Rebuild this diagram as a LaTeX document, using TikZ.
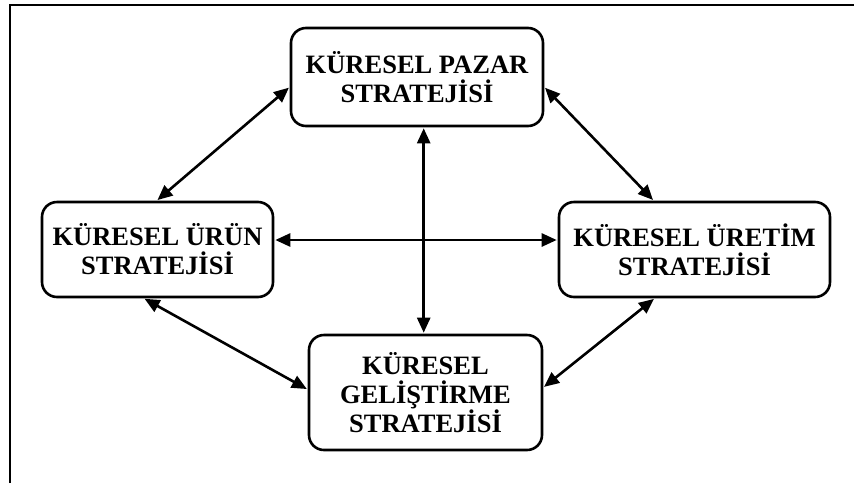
\documentclass[tikz,border=0pt]{standalone}
\usepackage{fontspec}
\setmainfont{Liberation Serif}
\usetikzlibrary{arrows.meta,calc}
\begin{document}
\begin{tikzpicture}[x=1pt,y=-1pt,
  stratbox/.style={draw,line width=2.6pt,rounded corners=15pt,inner sep=0pt,
    align=center,font=\fontsize{26.5}{29}\selectfont\bfseries},
  link/.style={line width=2.6pt,{Triangle[length=15pt,width=13pt]}-{Triangle[length=15pt,width=13pt]},shorten <=1pt,shorten >=1pt}]
\useasboundingbox (0,0) rectangle (854,483);
\draw[line width=2pt] (9.5,483) -- (9.5,5) -- (854,5);
\node[stratbox,minimum width=252pt,minimum height=98pt] (top) at (417,77) {KÜRESEL PAZAR\\STRATEJİSİ};
\node[stratbox,minimum width=231pt,minimum height=95pt] (left) at (157.5,249.5) {KÜRESEL ÜRÜN\\STRATEJİSİ};
\node[stratbox,minimum width=271pt,minimum height=95pt] (right) at (694.5,249.5) {KÜRESEL ÜRETİM\\STRATEJİSİ};
\node[stratbox,minimum width=233pt,minimum height=115pt] (bot) at (425.5,392.5) {KÜRESEL\\GELİŞTİRME\\STRATEJİSİ};
\coordinate (tl1) at ($(top.west)+(0,10)$);
\coordinate (tl2) at ($(left.north west)+(116,0)$);
\coordinate (tr1) at ($(top.east)+(0,10)$);
\coordinate (tr2) at ($(right.north west)+(96,0)$);
\coordinate (v1) at ($(top.south west)+(134,0)$);
\coordinate (v2) at ($(bot.north west)+(116,0)$);
\coordinate (h1) at ($(left.east)+(0,-9.5)$);
\coordinate (h2) at ($(right.west)+(0,-9.5)$);
\coordinate (bl1) at ($(left.south west)+(103,0)$);
\coordinate (bl2) at ($(bot.west)+(0,-3)$);
\coordinate (br1) at ($(right.south west)+(97,0)$);
\coordinate (br2) at ($(bot.east)+(0,-5)$);
\draw[link] (tl1) -- (tl2);
\draw[link] (tr1) -- (tr2);
\draw[link] (v1) -- (v2);
\draw[link] (h1) -- (h2);
\draw[link] (bl1) -- (bl2);
\draw[link] (br1) -- (br2);
\end{tikzpicture}
\end{document}
